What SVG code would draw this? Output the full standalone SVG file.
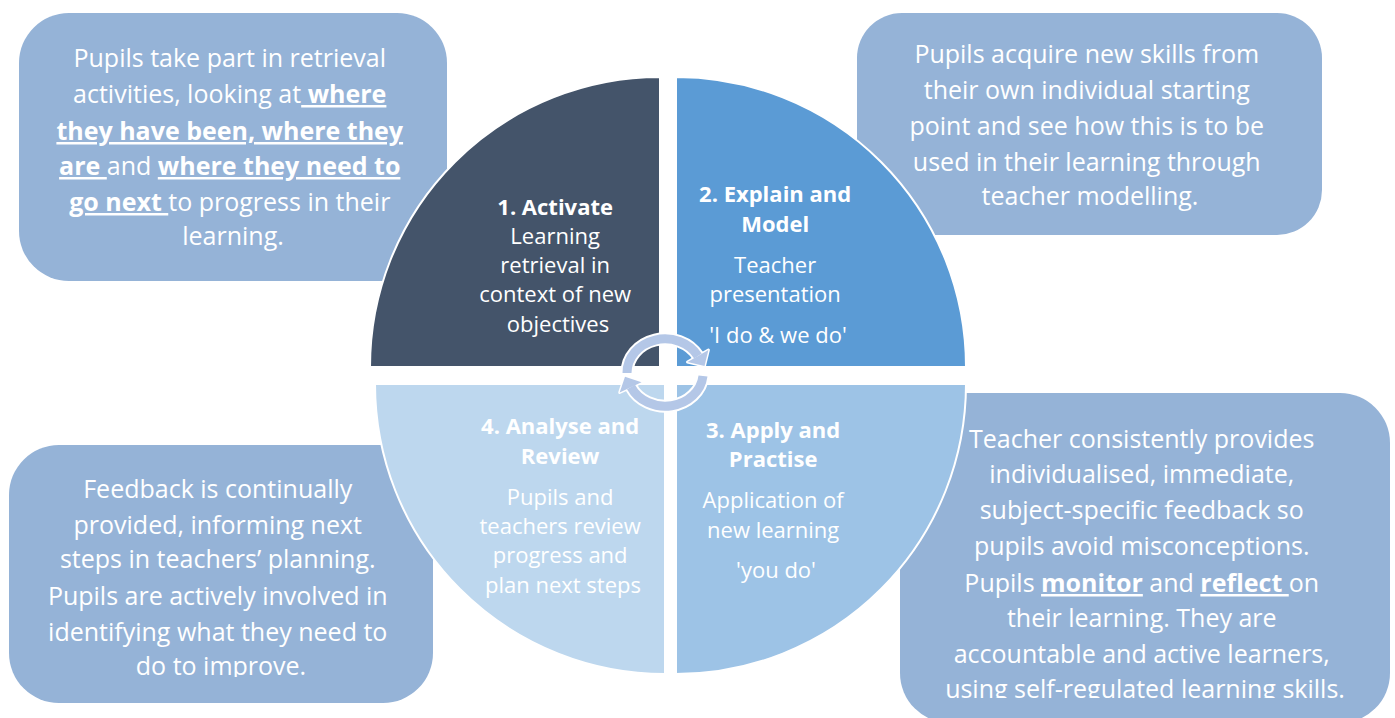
<svg xmlns="http://www.w3.org/2000/svg" width="1395" height="718" viewBox="0 0 1395 718">
<style>
.box{fill:#95B3D7;}
.quad{stroke:#FFFFFF;stroke-width:2;}
.t{font-family:"Open Sans",Lato,sans-serif;fill:#FFFFFF;text-anchor:middle;}
.bt{font-size:25px;}
.qt{font-size:22px;}
.b{font-weight:bold;}
.u{text-decoration:underline;}
.ring-o{fill:none;stroke:#FFFFFF;stroke-width:13;}
.ring{fill:none;stroke:#B4C7E7;stroke-width:9;}
.head-o{fill:#FFFFFF;stroke:#FFFFFF;stroke-width:3;stroke-linejoin:round;}
.head{fill:#B4C7E7;}
</style>
<defs>
<clipPath id="clipBL"><rect x="0" y="440" width="450" height="237"/></clipPath>
<clipPath id="clipBR"><rect x="890" y="388" width="505" height="310"/></clipPath>
</defs>
<rect width="1395" height="718" fill="#FFFFFF"/>

<g id="box-activate">
<rect class="box" x="19" y="13" width="428" height="268" rx="50"/>
<text class="t bt">
<tspan x="233" y="67">Pupils take part in retrieval</tspan>
<tspan x="233" y="103">activities, looking at<tspan class="b u"> where</tspan></tspan>
<tspan x="233" y="140" class="b u">they have been, where they</tspan>
<tspan x="233" y="175"><tspan class="b u">are </tspan>and <tspan class="b u">where they need to</tspan></tspan>
<tspan x="233" y="211"><tspan class="b u">go next </tspan>to progress in their</tspan>
<tspan x="233" y="245">learning.</tspan>
</text>
</g>

<g id="box-explain">
<rect class="box" x="857" y="13" width="465" height="222" rx="45"/>
<text class="t bt">
<tspan x="1090" y="63">Pupils acquire new skills from</tspan>
<tspan x="1090" y="99">their own individual starting</tspan>
<tspan x="1090" y="135">point and see how this is to be</tspan>
<tspan x="1090" y="171">used in their learning through</tspan>
<tspan x="1090" y="205">teacher modelling.</tspan>
</text>
</g>

<g id="box-analyse">
<rect class="box" x="9" y="445" width="424" height="258" rx="50"/>
<text class="t bt" clip-path="url(#clipBL)">
<tspan x="221" y="498">Feedback is continually</tspan>
<tspan x="221" y="534">provided, informing next</tspan>
<tspan x="221" y="568">steps in teachers’ planning.</tspan>
<tspan x="221" y="605">Pupils are actively involved in</tspan>
<tspan x="221" y="641">identifying what they need to</tspan>
<tspan x="221" y="675">do to improve.</tspan>
</text>
</g>

<g id="box-apply">
<rect class="box" x="900" y="393" width="490" height="330" rx="50"/>
<text class="t bt" clip-path="url(#clipBR)">
<tspan x="1145" y="448">Teacher consistently provides</tspan>
<tspan x="1145" y="483">individualised, immediate,</tspan>
<tspan x="1145" y="519">subject-specific feedback so</tspan>
<tspan x="1145" y="555">pupils avoid misconceptions.</tspan>
<tspan x="1145" y="592">Pupils <tspan class="b u">monitor</tspan> and <tspan class="b u">reflect </tspan>on</tspan>
<tspan x="1145" y="627">their learning. They are</tspan>
<tspan x="1145" y="663">accountable and active learners,</tspan>
<tspan x="1145" y="698">using self-regulated learning skills.</tspan>
</text>
</g>

<g id="quad-1-activate">
<path class="quad" fill="#44546A" d="M660,367 L370,367 A290,290 0 0 1 660,77 Z"/>
<text class="t qt">
<tspan x="558" y="215" class="b">1. Activate</tspan>
<tspan x="558" y="244">Learning</tspan>
<tspan x="558" y="273">retrieval in</tspan>
<tspan x="558" y="302">context of new</tspan>
<tspan x="558" y="332">objectives</tspan>
</text>
</g>

<g id="quad-2-explain">
<path class="quad" fill="#5B9BD5" d="M676,367 L676,77 A290,290 0 0 1 966,367 Z"/>
<text class="t qt">
<tspan x="778" y="202" class="b">2. Explain and</tspan>
<tspan x="778" y="232" class="b">Model</tspan>
<tspan x="778" y="273">Teacher</tspan>
<tspan x="778" y="302">presentation</tspan>
<tspan x="778" y="343">'I do &amp; we do'</tspan>
</text>
</g>

<g id="quad-3-apply">
<path class="quad" fill="#9DC3E6" d="M676,384 L966,384 A290,290 0 0 1 676,674 Z"/>
<text class="t qt">
<tspan x="776" y="438" class="b">3. Apply and</tspan>
<tspan x="776" y="467" class="b">Practise</tspan>
<tspan x="776" y="508">Application of</tspan>
<tspan x="776" y="538">new learning</tspan>
<tspan x="776" y="578">'you do'</tspan>
</text>
</g>

<g id="quad-4-analyse">
<path class="quad" fill="#BDD7EE" d="M665,384 L665,674 A290,290 0 0 1 375,384 Z"/>
<text class="t qt">
<tspan x="563" y="434" class="b">4. Analyse and</tspan>
<tspan x="563" y="464" class="b">Review</tspan>
<tspan x="563" y="505">Pupils and</tspan>
<tspan x="563" y="534">teachers review</tspan>
<tspan x="563" y="563">progress and</tspan>
<tspan x="563" y="593">plan next steps</tspan>
</text>
</g>

<g id="connectors">
<path class="ring-o" d="M627,373 A38,34 0 0 1 698,356"/>
<path class="ring-o" d="M703,376 A38,34 0 0 1 631,387"/>
<polygon class="head-o" points="708.4,350 687.5,362 704.5,366"/>
<polygon class="head-o" points="619.7,392.5 641.5,382.3 625,376.7"/>
<path class="ring" d="M627,373 A38,34 0 0 1 698,356"/>
<path class="ring" d="M703,376 A38,34 0 0 1 631,387"/>
<polygon class="head" points="708.4,350 687.5,362 704.5,366"/>
<polygon class="head" points="619.7,392.5 641.5,382.3 625,376.7"/>
</g>
</svg>
